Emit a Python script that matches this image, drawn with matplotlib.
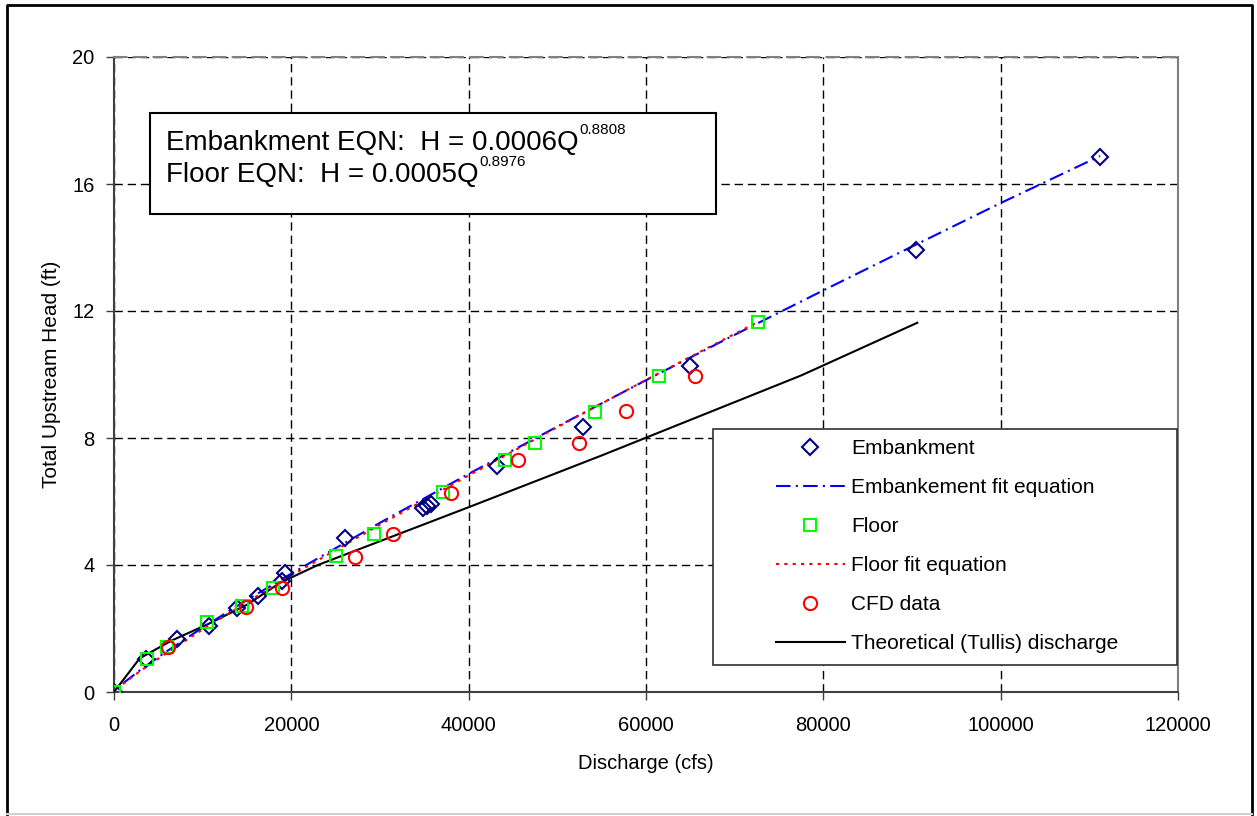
import matplotlib
matplotlib.use("Agg")
import matplotlib.pyplot as plt
from matplotlib.patches import Rectangle
from matplotlib.lines import Line2D

plt.rcParams['font.family'] = ['Liberation Sans', 'DejaVu Sans']

# embankment data
q_emb = [0, 3600, 7100, 10700, 13900, 16200, 18900, 19300, 26000, 34800, 35300, 35800, 43200, 52900, 65000, 90400, 111200]
h_emb = [0.0, 1.03, 1.66, 2.08, 2.64, 3.02, 3.5, 3.74, 4.85, 5.8, 5.86, 5.92, 7.13, 8.35, 10.27, 13.92, 16.85]

# embankment fit line
q_efit = [1000, 3000, 6000, 10000, 15000, 20000, 30000, 40000, 50000, 60000, 70000, 80000, 90000, 100000, 111200]
h_efit = [0.27, 0.70, 1.29, 2.03, 2.90, 3.73, 5.33, 6.87, 8.36, 9.82, 11.25, 12.65, 14.03, 15.40, 16.88]

# floor data
q_fl = [0, 3700, 6000, 10500, 14400, 17900, 25000, 29300, 37100, 44100, 47500, 54300, 61500, 72600]
h_fl = [0.0, 1.04, 1.42, 2.2, 2.71, 3.27, 4.28, 4.98, 6.3, 7.31, 7.84, 8.82, 9.95, 11.65]

# floor fit line
q_ffit = [1000, 3000, 6000, 10000, 15000, 20000, 30000, 40000, 50000, 60000, 70000, 72600]
h_ffit = [0.25, 0.67, 1.24, 1.97, 2.83, 3.67, 5.27, 6.82, 8.34, 9.83, 11.28, 11.65]

# CFD data
q_cfd = [6100, 14900, 18900, 27200, 31500, 38000, 45600, 52400, 57700, 65500]
h_cfd = [1.42, 2.68, 3.27, 4.26, 4.98, 6.27, 7.31, 7.84, 8.85, 9.95]

# theoretical (Tullis) discharge
q_tul = [0, 2900, 6500, 10700, 15000, 18800, 23000, 40000, 55000, 77500, 90600]
h_tul = [0.0, 1.06, 1.62, 2.15, 2.75, 3.45, 4.0, 5.82, 7.45, 9.97, 11.63]

x_ticks = [0, 20000, 40000, 60000, 80000, 100000, 120000]
y_ticks = [0, 4, 8, 12, 16, 20]

W, H = 1257, 816
fig = plt.figure(figsize=(W / 100, H / 100), dpi=100)
ax = fig.add_axes([114 / W, 1 - 692 / H, (1178 - 114) / W, (692 - 57) / H])

ax.plot(q_tul, h_tul, color='black', lw=1.5, label='Theoretical (Tullis) discharge', zorder=3)
ax.plot(q_efit, h_efit, color='#0000FF', lw=1.5, linestyle=(0, (7, 2.5, 1, 2.5)),
        label='Embankement fit equation', zorder=4)
ax.plot(q_ffit, h_ffit, color='#FF0000', lw=1.5, linestyle=(0, (1.5, 2.5)),
        label='Floor fit equation', zorder=4)
ax.plot(q_emb, h_emb, linestyle='none', marker='D', ms=8, mfc='none', mec='#000080',
        mew=1.5, label='Embankment', zorder=5)
ax.plot(q_fl, h_fl, linestyle='none', marker='s', ms=9, mfc='none', mec='#00FF00',
        mew=1.5, label='Floor', zorder=5)
ax.plot(q_cfd, h_cfd, linestyle='none', marker='o', ms=9.5, mfc='none', mec='#FF0000',
        mew=1.5, label='CFD data', zorder=5)

ax.set_xlim(0, 120000)
ax.set_ylim(0, 20)
ax.set_xticks(x_ticks)
ax.set_yticks(y_ticks)
ax.tick_params(axis='both', direction='out', length=6, width=1, labelsize=14.5, color='#404040')
ax.tick_params(axis='x', pad=11)
ax.tick_params(axis='y', pad=8)
ax.grid(True, color='black', linestyle=(0, (6, 3.5)), lw=1)
ax.set_axisbelow(True)

for s in ['left', 'bottom']:
    ax.spines[s].set_color('#404040')
    ax.spines[s].set_linewidth(1.5)
ax.spines['right'].set_color('#808080')
ax.spines['right'].set_linewidth(1.5)
ax.spines['top'].set_color('#808080')
ax.spines['top'].set_linewidth(1.5)
ax.spines['top'].set_linestyle((0, (6, 3.5)))

ax.set_xlabel('Discharge (cfs)', fontsize=14.5, labelpad=14)
ax.set_ylabel('Total Upstream Head (ft)', fontsize=15, labelpad=8)

# legend (box drawn separately)
handles, labels = ax.get_legend_handles_labels()
order = ['Embankment', 'Embankement fit equation', 'Floor', 'Floor fit equation',
         'CFD data', 'Theoretical (Tullis) discharge']
hl = {l: h for h, l in zip(handles, labels)}
leg = fig.legend([hl[o] for o in order], order, loc='upper left',
                 bbox_to_anchor=(776 / W, 1 - 439 / H), frameon=False, fontsize=15,
                 handlelength=3.3, handletextpad=0.3, labelspacing=0.96, borderpad=0,
                 borderaxespad=0)
fig.patches.append(Rectangle((713 / W, 1 - 665 / H), (1177 - 713) / W, (665 - 429) / H,
                             transform=fig.transFigure, fill=True, facecolor='white',
                             edgecolor='#303030', lw=1.2, zorder=1))
leg.set_zorder(2)

# equation box
fig.patches.append(Rectangle((150 / W, 1 - 214 / H), (716 - 150) / W, (214 - 113) / H,
                             transform=fig.transFigure, fill=True, facecolor='white',
                             edgecolor='black', lw=1.5, zorder=1))
t1 = fig.text(166 / W, 1 - 150 / H, 'Embankment EQN:  H = 0.0006Q', fontsize=20,
              ha='left', va='baseline', zorder=3)
t2 = fig.text(166 / W, 1 - 182 / H, 'Floor EQN:  H = 0.0005Q', fontsize=20,
              ha='left', va='baseline', zorder=3)
fig.canvas.draw()
renderer = fig.canvas.get_renderer()
for t, sup, base in [(t1, '0.8808', 134), (t2, '0.8976', 166)]:
    bb = t.get_window_extent(renderer)
    fig.text((bb.x1 + 1) / W, 1 - base / H, sup, fontsize=11, ha='left',
             va='baseline', zorder=3)

# outer frame
fig.add_artist(Line2D([7 / W, 7 / W, 1252 / W, 1252 / W], [1 - 814 / H, 1 - 5 / H, 1 - 5 / H, 1 - 814 / H],
                      transform=fig.transFigure, color='black', lw=2))
fig.add_artist(Line2D([7 / W, 1252 / W], [1 - 814 / H, 1 - 814 / H],
                      transform=fig.transFigure, color='#d0d0d0', lw=1.5))

fig.savefig('out.png', dpi=100)
